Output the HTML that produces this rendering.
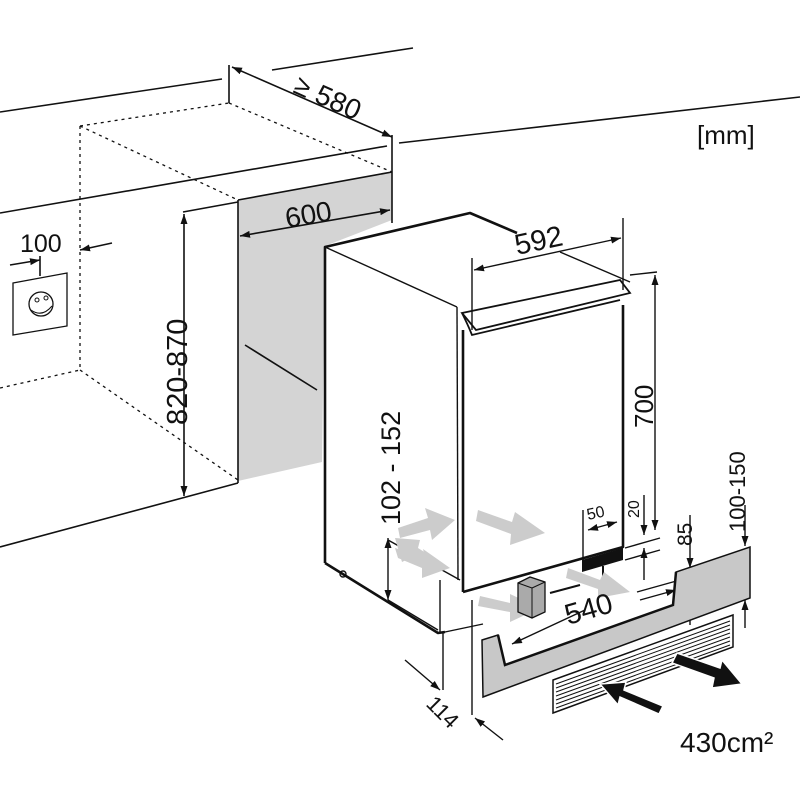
<!DOCTYPE html>
<html><head><style>html,body{margin:0;padding:0;background:#fff}svg{display:block}</style></head>
<body>
<svg width="800" height="800" viewBox="0 0 800 800" xmlns="http://www.w3.org/2000/svg" font-family="Liberation Sans, sans-serif">
<defs>
<marker id="a" viewBox="0 0 10 10" refX="10" refY="5" markerWidth="10" markerHeight="10" orient="auto-start-reverse" markerUnits="userSpaceOnUse"><path d="M0,1.5 L10,5 L0,8.5 z" fill="#111"/></marker>
</defs>
<g stroke="#111" stroke-width="1.6" fill="none">
<line x1="0" y1="112" x2="222" y2="79"/>
<line x1="272" y1="70" x2="413" y2="48"/>
<line x1="0" y1="213" x2="387" y2="146"/>
<line x1="399" y1="143" x2="800" y2="97"/>
<g stroke-dasharray="3,4" stroke-width="1.3">
<line x1="80" y1="126" x2="229" y2="103"/>
<line x1="80" y1="126" x2="238" y2="200"/>
<line x1="229" y1="103" x2="392" y2="172"/>
<line x1="80" y1="126" x2="80" y2="370"/>
<line x1="0" y1="388" x2="80" y2="370"/>
<line x1="80" y1="370" x2="238" y2="480"/>
</g>
</g>
<polygon points="238,200 392,172 392,220 325,246 322,462 238,481" fill="#d4d4d4"/>
<g stroke="#111" stroke-width="1.6" fill="none">
<line x1="238" y1="200" x2="392" y2="172"/>
<line x1="238" y1="200" x2="238" y2="483"/>
<line x1="245" y1="345" x2="317" y2="390"/>
<line x1="183" y1="212" x2="238" y2="202"/>
<line x1="0" y1="547" x2="238" y2="483"/>
<line x1="229" y1="65" x2="229" y2="103"/>
<line x1="392" y1="135" x2="392" y2="223"/>
<line x1="232" y1="67" x2="392" y2="137" marker-start="url(#a)" marker-end="url(#a)"/>
<line x1="240" y1="236" x2="390" y2="210" marker-start="url(#a)" marker-end="url(#a)"/>
<line x1="184" y1="214" x2="184" y2="496" marker-start="url(#a)" marker-end="url(#a)"/>
<line x1="10" y1="265" x2="40" y2="260" marker-end="url(#a)"/>
<line x1="112" y1="243" x2="80" y2="250" marker-end="url(#a)"/>
<line x1="40" y1="256" x2="40" y2="276"/>
<polygon points="13,283 67,273 67,326 13,335" stroke-width="1.3"/>
<circle cx="41" cy="304" r="12" stroke-width="1.3"/>
<circle cx="37" cy="300" r="2" stroke-width="1"/>
<circle cx="46" cy="298" r="2" stroke-width="1"/>
<path d="M31,310 Q42,318 52,306" stroke-width="1"/>
</g>
<polygon points="325,247 470,213 630,280 630,293 625,545 463,592 440,632 325,563" fill="#fff"/>
<g stroke="#111" stroke-width="2.6" fill="none" stroke-linejoin="round">
<polyline points="325,563 325,247 470,213 517,233"/>
<polyline points="325,563 438,633 445,632"/>
<polyline points="463,592 623,547 623,305"/>
<line x1="463" y1="330" x2="463" y2="592"/>
</g>
<g stroke="#111" stroke-width="1.4" fill="none">
<line x1="325" y1="247" x2="457" y2="307"/>
<line x1="457" y1="307" x2="458" y2="580"/>
<line x1="560" y1="252" x2="630" y2="282"/>
<polygon points="462,313 620,280 630,293 476,330" stroke-width="1.8"/>
<path d="M462,313 Q468,325 472,335 L620,300" stroke-width="1.8"/>
<circle cx="343" cy="574" r="3"/>
<polyline points="388,540 460,580"/>
<polyline points="388,600 438,630"/>
<line x1="440" y1="580" x2="440" y2="632"/>
<line x1="445" y1="632" x2="483" y2="624"/>
<line x1="472" y1="258" x2="472" y2="330"/>
<line x1="623" y1="218" x2="623" y2="290"/>
<line x1="474" y1="270" x2="621" y2="238" marker-start="url(#a)" marker-end="url(#a)"/>
<line x1="630" y1="275" x2="657" y2="272"/>
<line x1="655" y1="275" x2="655" y2="530" marker-start="url(#a)" marker-end="url(#a)"/>
<line x1="388" y1="538" x2="388" y2="600" marker-start="url(#a)" marker-end="url(#a)"/>
<line x1="583" y1="510" x2="583" y2="560"/>
<line x1="588" y1="530" x2="617" y2="522" marker-start="url(#a)" marker-end="url(#a)"/>
<line x1="644" y1="495" x2="644" y2="535" marker-end="url(#a)"/>
<line x1="644" y1="580" x2="644" y2="548" marker-end="url(#a)"/>
<line x1="625" y1="548" x2="660" y2="538"/>
<line x1="625" y1="560" x2="660" y2="550"/>
<line x1="690" y1="515" x2="690" y2="568" marker-end="url(#a)"/>
<line x1="690" y1="625" x2="690" y2="602" marker-end="url(#a)"/>
<line x1="745" y1="505" x2="745" y2="546" marker-end="url(#a)"/>
<line x1="745" y1="628" x2="745" y2="600" marker-end="url(#a)"/>
<line x1="637" y1="592" x2="680" y2="580"/>
<line x1="585" y1="610" x2="512" y2="644" marker-end="url(#a)"/>
<line x1="640" y1="600" x2="676" y2="590" marker-end="url(#a)"/>
<line x1="550" y1="593" x2="580" y2="585" stroke-width="2"/>
<line x1="443" y1="632" x2="443" y2="690"/>
<line x1="472" y1="600" x2="472" y2="715"/>
<line x1="405" y1="660" x2="440" y2="690" marker-end="url(#a)"/>
<line x1="503" y1="740" x2="475" y2="718" marker-end="url(#a)"/>
</g>
<polygon points="582,560 623,548 623,560 582,572" fill="#111"/>
<line x1="603" y1="566" x2="603" y2="578" stroke="#111" stroke-width="2"/>
<g fill="#ccc">
<polygon points="398,528 428,518 425,508 455,520 432,540 430,530 400,538"/>
<polygon points="478,510 512,522 515,512 545,533 510,545 511,534 476,521"/>
<polygon points="395,548 425,557 423,549 450,568 422,578 422,568 398,558"/>
<polygon points="440,562 418,548 420,540 395,538 402,562 410,558 434,572"/>
<polygon points="480,596 510,603 510,594 540,608 510,622 510,612 478,606"/>
<polygon points="568,568 600,580 604,572 630,592 598,598 598,589 566,578"/>
</g>
<polygon points="518,583 530,577 545,582 545,612 532,618 518,612" fill="#aaa" stroke="#111" stroke-width="1.3"/>
<line x1="518" y1="583" x2="532" y2="588" stroke="#111"/><line x1="532" y1="588" x2="545" y2="582" stroke="#111"/><line x1="532" y1="588" x2="532" y2="618" stroke="#111"/>
<polygon points="482,640 498,635 505,665 673,605 676,572 750,547 750,598 483,697" fill="#c8c8c8" stroke="#111" stroke-width="1.5"/>
<polyline points="498,635 505,665 673,605 676,572" fill="none" stroke="#111" stroke-width="2.5"/>
<polygon points="553,680 733,615 733,647 553,713" fill="#fff" stroke="#111" stroke-width="1.5"/>
<g stroke="#111" stroke-width="1">
<line x1="556" y1="684" x2="730" y2="621"/><line x1="556" y1="688" x2="730" y2="625"/><line x1="556" y1="692" x2="730" y2="629"/><line x1="556" y1="696" x2="730" y2="633"/><line x1="556" y1="700" x2="730" y2="637"/><line x1="556" y1="704" x2="730" y2="641"/><line x1="556" y1="708" x2="730" y2="645"/>
</g>
<polygon points="677,653 720,668 722,660 742,684 712,688 714,678 672,663" fill="#111" stroke="#fff" stroke-width="1.5"/>
<polygon points="663,706 624,690 626,682 600,684 618,705 620,697 659,714" fill="#111" stroke="#fff" stroke-width="1.5"/>
<g fill="#111">
<text x="697" y="144" font-size="26">[mm]</text>
<text transform="translate(292,92) rotate(24)" font-size="28">≥ 580</text>
<text transform="translate(287,228) rotate(-10)" font-size="28">600</text>
<text x="20" y="252" font-size="25">100</text>
<text transform="translate(187,425) rotate(-90)" font-size="29">820-870</text>
<text transform="translate(517,255) rotate(-12)" font-size="29">592</text>
<text transform="translate(653,428) rotate(-90)" font-size="26">700</text>
<text transform="translate(400,525) rotate(-90)" font-size="27">102 - 152</text>
<text transform="translate(588,520) rotate(-12)" font-size="16">50</text>
<text transform="translate(639,518) rotate(-90)" font-size="16">20</text>
<text transform="translate(692,546) rotate(-90)" font-size="21">85</text>
<text transform="translate(745,532) rotate(-90)" font-size="22">100-150</text>
<text transform="translate(568,625) rotate(-16)" font-size="29">540</text>
<text transform="translate(425,705) rotate(45)" font-size="22">114</text>
<text x="680" y="752" font-size="28">430cm²</text>
</g>
</svg>
</body></html>
